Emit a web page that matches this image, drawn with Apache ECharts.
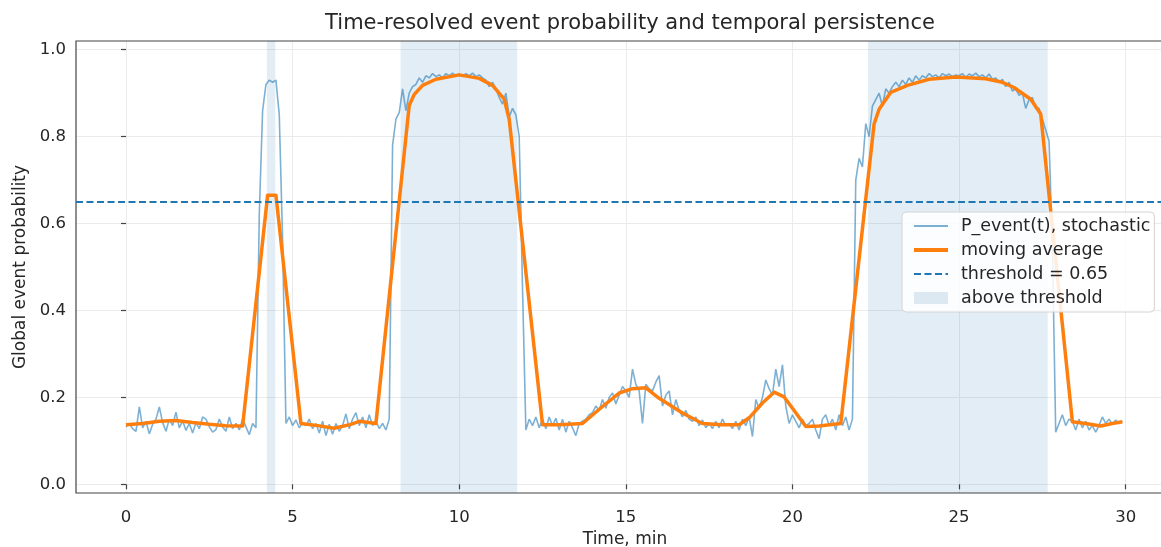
<!DOCTYPE html>
<html>
<head>
<meta charset="utf-8">
<title>Time-resolved event probability</title>
<script src="https://cdn.jsdelivr.net/npm/echarts@6/dist/echarts.min.js"></script>
<style>
  html, body { margin: 0; padding: 0; background: #fff; }
  #main { width: 1161px; height: 547px; }
</style>
</head>
<body>
<div id="main"></div>
<script>
// stochastic P_event(t), one sample every 0.1 min starting at t = 0
var sampleStep = 0.1;
var pEvent = [
  0.132, 0.140, 0.128, 0.122, 0.178, 0.130, 0.145, 0.116, 0.138, 0.150,
  0.178, 0.142, 0.122, 0.150, 0.135, 0.166, 0.130, 0.146, 0.124, 0.140,
  0.118, 0.142, 0.128, 0.155, 0.150, 0.132, 0.120, 0.126, 0.150, 0.132,
  0.122, 0.155, 0.128, 0.140, 0.125, 0.150, 0.132, 0.114, 0.140, 0.130,
  0.620, 0.860, 0.920, 0.930, 0.925, 0.930, 0.850, 0.560, 0.140, 0.155,
  0.135, 0.148, 0.130, 0.142, 0.135, 0.150, 0.128, 0.140, 0.118, 0.145,
  0.112, 0.138, 0.115, 0.140, 0.122, 0.135, 0.162, 0.128, 0.150, 0.165,
  0.135, 0.155, 0.130, 0.160, 0.135, 0.145, 0.128, 0.140, 0.125, 0.150,
  0.780, 0.840, 0.855, 0.910, 0.860, 0.900, 0.915, 0.920, 0.935, 0.925,
  0.940, 0.935, 0.945, 0.938, 0.942, 0.935, 0.945, 0.940, 0.946, 0.940,
  0.944, 0.938, 0.945, 0.940, 0.946, 0.938, 0.942, 0.935, 0.930, 0.915,
  0.925, 0.910, 0.890, 0.875, 0.900, 0.845, 0.865, 0.850, 0.800, 0.450,
  0.125, 0.150, 0.135, 0.155, 0.130, 0.150, 0.128, 0.155, 0.135, 0.152,
  0.125, 0.150, 0.120, 0.145, 0.130, 0.112, 0.140, 0.145, 0.150, 0.160,
  0.165, 0.180, 0.170, 0.195, 0.175, 0.200, 0.210, 0.185, 0.205, 0.225,
  0.215, 0.200, 0.265, 0.230, 0.215, 0.140, 0.230, 0.220, 0.215, 0.235,
  0.250, 0.180, 0.205, 0.215, 0.160, 0.195, 0.170, 0.155, 0.170, 0.150,
  0.145, 0.155, 0.135, 0.148, 0.130, 0.140, 0.128, 0.145, 0.130, 0.150,
  0.135, 0.140, 0.128, 0.145, 0.125, 0.150, 0.135, 0.155, 0.110, 0.195,
  0.175, 0.200, 0.240, 0.220, 0.205, 0.265, 0.225, 0.275, 0.180, 0.140,
  0.160, 0.145, 0.130, 0.150, 0.135, 0.140, 0.150, 0.125, 0.105, 0.150,
  0.160, 0.135, 0.150, 0.125, 0.160, 0.135, 0.155, 0.125, 0.150, 0.700,
  0.750, 0.730, 0.830, 0.800, 0.870, 0.885, 0.900, 0.870, 0.910, 0.900,
  0.915, 0.925, 0.915, 0.930, 0.920, 0.935, 0.925, 0.940, 0.930, 0.940,
  0.935, 0.945, 0.938, 0.942, 0.935, 0.945, 0.940, 0.944, 0.938, 0.942,
  0.940, 0.945, 0.936, 0.944, 0.940, 0.946, 0.938, 0.942, 0.935, 0.944,
  0.932, 0.935, 0.925, 0.932, 0.915, 0.925, 0.905, 0.910, 0.895, 0.900,
  0.865, 0.885, 0.890, 0.865, 0.865, 0.840, 0.815, 0.790, 0.550, 0.120,
  0.140, 0.160, 0.135, 0.150, 0.145, 0.125, 0.150, 0.130, 0.145, 0.125,
  0.135, 0.120, 0.135, 0.155, 0.140, 0.150, 0.138, 0.148, 0.140, 0.145
];

// moving average, read at its corner points
var maTimes = [
  0, 0.5, 1, 1.5, 2, 2.5, 3, 3.5, 4.25, 4.5,
  5.25, 5.75, 6.25, 6.75, 7, 7.5, 8.5, 8.65, 8.9, 9.3,
  10, 10.6, 11, 11.35, 11.5, 12.5, 13, 13.7, 14.3, 14.8,
  15.2, 15.6, 16, 16.7, 17.3, 17.9, 18.4, 18.7, 19.1, 19.45,
  19.75, 20.05, 20.4, 20.8, 21.45, 22.45, 22.6, 22.95, 23.45, 24.1,
  24.9, 25.8, 26.3, 26.65, 27.15, 27.45, 28.4, 28.8, 29.25, 29.6, 29.9
];
var maValues = [
  0.137, 0.140, 0.145, 0.147, 0.142, 0.138, 0.135, 0.134, 0.665, 0.665,
  0.140, 0.135, 0.129, 0.138, 0.145, 0.140, 0.872, 0.897, 0.918, 0.932,
  0.942, 0.934, 0.918, 0.886, 0.840, 0.137, 0.137, 0.140, 0.179, 0.210,
  0.220, 0.222, 0.198, 0.164, 0.140, 0.137, 0.137, 0.153, 0.187, 0.212,
  0.201, 0.170, 0.133, 0.134, 0.140, 0.829, 0.863, 0.902, 0.918, 0.932,
  0.937, 0.933, 0.925, 0.913, 0.886, 0.852, 0.144, 0.140, 0.134, 0.140, 0.144
];

var threshold = 0.65;
// intervals where the moving average stays above the threshold
var spanStarts = [4.23, 8.24, 22.27];
var spanEnds = [4.48, 11.74, 27.66];

var xTicks = [0, 5, 10, 15, 20, 25, 30];
var yTicks = [0, 0.2, 0.4, 0.6, 0.8, 1.0];

var font = 'DejaVu Sans';
var blue = '#1f77b4';
var orange = '#ff7f0e';

var pData = pEvent.map(function (v, i) {
  return [+(i * sampleStep).toFixed(2), v];
});
var maData = maTimes.map(function (t, i) {
  return [t, maValues[i]];
});
var spanAreas = spanStarts.map(function (s, i) {
  return [{ xAxis: s }, { xAxis: spanEnds[i] }];
});

var myChart = echarts.init(document.getElementById('main'));

// legend icons for line series: hide the symbol, keep the line
var noSymbol = { opacity: 0 };

var option = {
  animation: false,
  backgroundColor: '#fff',
  title: {
    text: 'Time-resolved event probability and temporal persistence',
    left: 625,
    textAlign: 'center',
    top: 8,
    textStyle: { fontFamily: font, fontSize: 21, fontWeight: 'normal', color: '#262626' }
  },
  legend: {
    orient: 'vertical',
    left: 902,
    top: 212,
    padding: [5, 4, 5, 10],
    itemGap: 6,
    itemWidth: 34,
    itemHeight: 12,
    backgroundColor: 'rgba(255,255,255,0.85)',
    borderColor: '#d4d4d4',
    borderWidth: 1,
    borderRadius: 4,
    textStyle: { fontFamily: font, fontSize: 17.5, color: '#262626', padding: [0, 0, 0, 8] },
    data: [
      { name: 'P_event(t), stochastic', itemStyle: noSymbol, lineStyle: { width: 1.8 } },
      { name: 'moving average', itemStyle: noSymbol, lineStyle: { width: 4 } },
      { name: 'threshold = 0.65', itemStyle: noSymbol, lineStyle: { width: 2 } },
      { name: 'above threshold', icon: 'rect', itemStyle: { color: '#dce8f2' } }
    ]
  },
  grid: {
    show: true,
    left: 76,
    width: 1098,
    top: 41,
    bottom: 54,
    outerBoundsMode: 'none',
    containLabel: false,
    borderColor: '#444',
    borderWidth: 1.2,
    backgroundColor: 'transparent',
    z: 3
  },
  xAxis: {
    type: 'value',
    min: -1.5,
    max: 31.45,
    z: 1,
    name: 'Time, min',
    nameLocation: 'middle',
    nameGap: 38,
    nameTextStyle: { fontFamily: font, fontSize: 17, color: '#262626' },
    axisLine: { show: false },
    axisTick: {
      show: true,
      length: 5,
      customValues: xTicks,
      lineStyle: { color: '#444', width: 1.2 }
    },
    axisLabel: {
      customValues: xTicks,
      margin: 16,
      fontFamily: font,
      fontSize: 16.5,
      color: '#262626'
    },
    splitLine: { show: true, lineStyle: { color: '#ebebeb', width: 1 } }
  },
  yAxis: {
    type: 'value',
    min: -0.02,
    max: 1.02,
    z: 1,
    name: 'Global event probability',
    nameLocation: 'middle',
    nameGap: 46,
    nameTextStyle: { fontFamily: font, fontSize: 17, color: '#262626' },
    axisLine: { show: false },
    axisTick: {
      show: true,
      length: 5,
      customValues: yTicks,
      lineStyle: { color: '#444', width: 1.2 }
    },
    axisLabel: {
      customValues: yTicks,
      margin: 10,
      fontFamily: font,
      fontSize: 16.5,
      color: '#262626',
      formatter: function (v) { return v.toFixed(1); }
    },
    splitLine: { show: true, lineStyle: { color: '#ebebeb', width: 1 } }
  },
  series: [
    {
      name: 'above threshold',
      type: 'line',
      data: [],
      z: 0,
      itemStyle: { color: '#dce8f2' },
      markArea: {
        silent: true,
        itemStyle: { color: blue, opacity: 0.13 },
        data: spanAreas
      }
    },
    {
      name: 'P_event(t), stochastic',
      type: 'line',
      data: pData,
      z: 2,
      symbol: 'none',
      itemStyle: { color: blue, opacity: 0.58 },
      lineStyle: { color: blue, width: 1.6, opacity: 0.58 }
    },
    {
      name: 'moving average',
      type: 'line',
      data: maData,
      z: 3,
      symbol: 'none',
      itemStyle: { color: orange },
      lineStyle: { color: orange, width: 3.5, join: 'round' }
    },
    {
      name: 'threshold = 0.65',
      type: 'line',
      data: [],
      z: 3,
      symbol: 'none',
      itemStyle: { color: blue },
      lineStyle: { color: blue, width: 2, type: [7, 3.5] },
      markLine: {
        silent: true,
        symbol: 'none',
        label: { show: false },
        lineStyle: { color: blue, width: 2, type: [7, 3.5] },
        data: [{ yAxis: threshold }]
      }
    }
  ]
};
myChart.setOption(option);
</script>
</body>
</html>
